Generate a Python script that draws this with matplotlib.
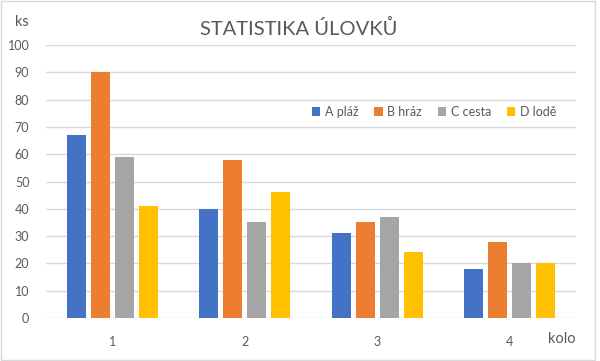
import matplotlib.pyplot as plt
import numpy as np
from matplotlib.patches import Rectangle

kola = ['1', '2', '3', '4']
serie = ['A pláž', 'B hráz', 'C cesta', 'D lodě']
hodnoty = [
    [67, 40, 31, 18],
    [90, 58, 35, 28],
    [59, 35, 37, 20],
    [41, 46, 24, 20],
]
barvy = ['#4472C4', '#ED7D31', '#A5A5A5', '#FFC000']

plt.rcParams['font.family'] = ['Lato', 'DejaVu Sans']
text_color = '#595959'
grid_color = '#d9d9d9'

fig = plt.figure(figsize=(6, 3.61), dpi=100)
ax = fig.add_axes([0.0767, 0.1191, 0.8833, 0.7562])

x = np.arange(len(kola))
pitch = 0.181
width = 0.143
for i, (name, vals) in enumerate(zip(serie, hodnoty)):
    ax.bar(x + (i - 1.5) * pitch, vals, width=width, color=barvy[i], label=name, zorder=3)

ax.set_xlim(-0.5, len(kola) - 0.5)
ax.set_ylim(0, 100)
ax.set_yticks(range(0, 101, 10))
ax.set_xticks(x)
ax.set_xticklabels(kola)
ax.grid(axis='y', color=grid_color, linewidth=1, zorder=0)
for s in ax.spines.values():
    s.set_visible(False)
ax.tick_params(axis='both', length=0, labelsize=9, colors=text_color)
ax.tick_params(axis='y', pad=12)
ax.tick_params(axis='x', pad=13)

ax.legend(loc='center', bbox_to_anchor=(0.732, 0.755), ncol=4, frameon=False,
          handlelength=0.7, handleheight=0.7, handletextpad=0.35,
          columnspacing=1.25, fontsize=9, labelcolor=text_color)

fig.text(0.497, 0.922, 'STATISTIKA ÚLOVKŮ', ha='center', va='center',
         fontsize=14.5, color=text_color)
fig.text(0.037, 0.938, 'ks', ha='center', va='center', fontsize=10.5, color=text_color)
fig.text(0.937, 0.061, 'kolo', ha='center', va='center', fontsize=10.5, color=text_color)

fig.patches.append(Rectangle((0.002, 0.003), 0.99, 0.994, transform=fig.transFigure,
                             fill=False, edgecolor=grid_color, linewidth=1))

fig.savefig('out.png', dpi=100)
